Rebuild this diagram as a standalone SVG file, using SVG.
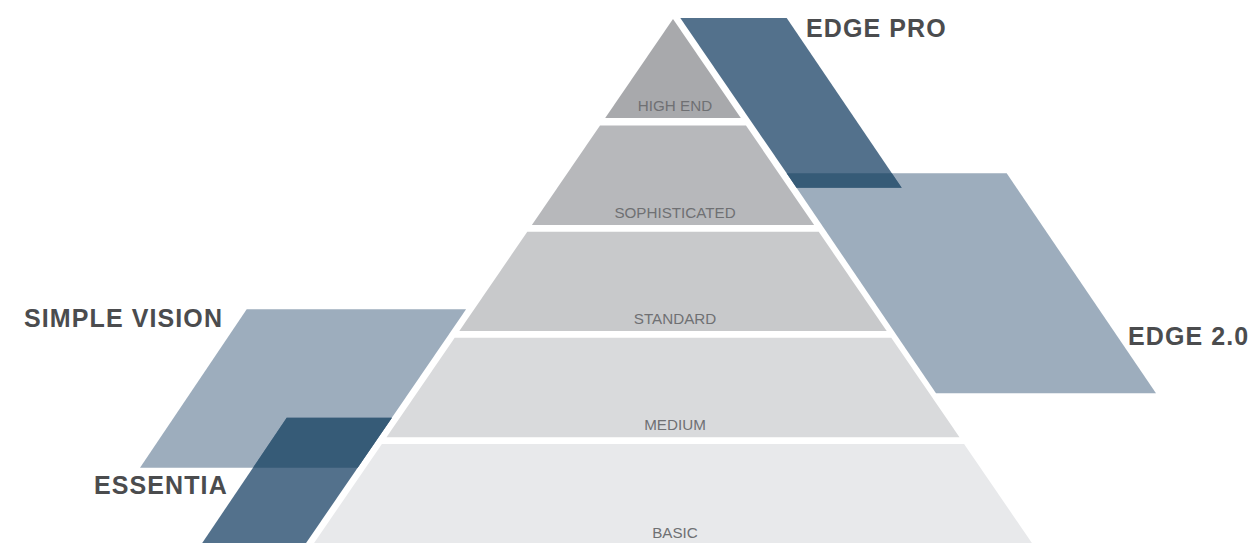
<svg xmlns="http://www.w3.org/2000/svg" width="1256" height="543" viewBox="0 0 1256 543">
<style>
.lvl{font-family:"Liberation Sans",Arial,sans-serif;font-size:15.2px;fill:#6f7073;text-anchor:middle}
.brand{font-family:"Liberation Sans",Arial,sans-serif;font-size:25px;font-weight:bold;fill:#4b4c4e;letter-spacing:1.1px}
.light{fill:#9dadbd}
.dark{fill:#53718c}
.over{fill:#365b77}
</style>
<rect width="1256" height="543" fill="#ffffff"/>
<g id="pyramid">
  <g id="basic"><polygon points="381.9,444 964.1,444 1036.7,550 309.3,550" fill="#e8e9eb"/><text class="lvl" x="675" y="538">BASIC</text></g>
  <g id="medium"><polygon points="454.7,337.7 891.3,337.7 959.5,437.3 386.5,437.3" fill="#d9dadc"/><text class="lvl" x="675" y="430">MEDIUM</text></g>
  <g id="standard"><polygon points="527.3,231.7 818.7,231.7 886.7,331 459.3,331" fill="#c8c9cb"/><text class="lvl" x="675" y="323.5">STANDARD</text></g>
  <g id="sophisticated"><polygon points="600,125.5 746,125.5 814.1,225 531.9,225" fill="#b7b8bb"/><text class="lvl" x="675" y="218.3">SOPHISTICATED</text></g>
  <g id="high-end"><polygon points="673,19 740.8,118 605.2,118" fill="#a8a9ac"/><text class="lvl" x="675" y="111">HIGH END</text></g>
</g>
<g id="edge-2-0"><polygon class="light" points="786.7,173.3 1006.7,173.3 1156,393.3 936,393.3"/><text class="brand" x="1128" y="344.5">EDGE 2.0</text></g>
<g id="edge-pro"><polygon class="dark" points="680.3,18 786.7,18 901.7,187.7 796.6,187.7"/><polygon class="over" points="786.7,173.3 891.8,173.3 901.7,187.7 796.6,187.7"/><text class="brand" x="806" y="37">EDGE PRO</text></g>
<g id="simple-vision"><polygon class="light" points="246.7,309.3 466.1,309.3 357.6,467.7 140,467.7"/><text class="brand" x="24" y="326.7">SIMPLE VISION</text></g>
<g id="essentia"><polygon class="dark" points="286.7,417.7 391.9,417.7 301.3,550 197.5,550"/><polygon class="over" points="286.7,417.7 391.9,417.7 357.6,467.7 253,467.7"/><text class="brand" x="94" y="494.3">ESSENTIA</text></g>
<g id="connectors"></g>
</svg>
